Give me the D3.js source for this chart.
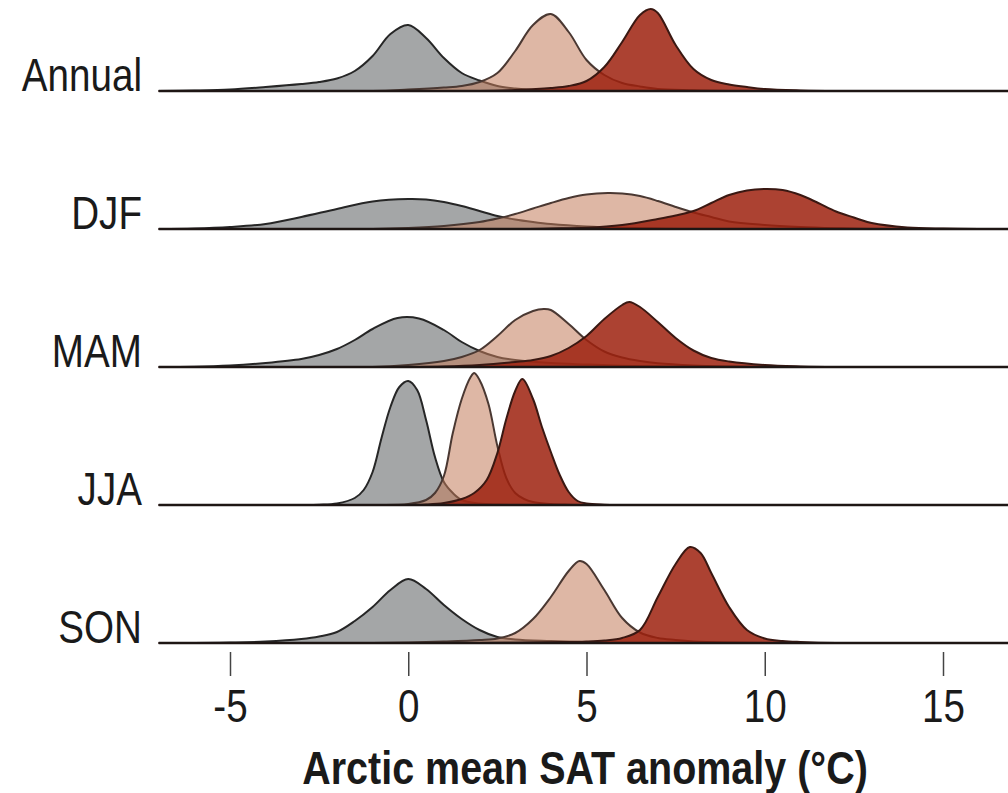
<!DOCTYPE html>
<html>
<head>
<meta charset="utf-8">
<script src="https://cdnjs.cloudflare.com/ajax/libs/d3/7.8.5/d3.min.js"></script>
<style>
  body { margin: 0; background: #fff; }
  svg { display: block; }
  text { font-family: "Liberation Sans", Arial, sans-serif; }
</style>
</head>
<body>
<div id="chart"></div>
<script>
const seasons = ["Annual", "DJF", "MAM", "JJA", "SON"];
const xTicks = [-5, 0, 5, 10, 15];
const xLabel = "Arctic mean SAT anomaly (°C)";

// density curves: [anomaly °C, relative density]
const annualGray = [[-7,0],[-6,0.5],[-5,1.5],[-4,4],[-3,7],[-2.5,9],[-2,12.5],[-1.5,20],[-1,35],[-0.5,57],[0,66],[0.5,53],[1,33],[1.5,18],[2,10.5],[2.5,5],[3,2.5],[3.5,1],[4,0.5],[5,0],[17,0]];
const annualPink = [[-7,0],[-1,0],[0,1.5],[1,3.5],[1.5,5],[2,9],[2.5,18],[3,40],[3.5,66],[4,77],[4.5,59],[5,31],[5.5,16],[6,8],[6.5,4.5],[7,2],[8,0.8],[9,0],[17,0]];
const annualRed = [[-7,0],[2,0],[3,1],[4,3],[4.5,5],[5,10],[5.5,24],[6,49],[6.5,76],[6.8,82],[7,78],[7.5,46],[8,22],[8.5,11],[9,6.5],[9.5,4],[10,2],[11,0.6],[12,0],[17,0]];

const djfGray = [[-7,0],[-6,0.5],[-5,2],[-4,5],[-3,12],[-2,20],[-1,27.5],[0,30],[0.5,29.5],[1,27],[1.5,23],[2,18],[2.5,13],[3,9.5],[3.5,7],[4,5],[5,2.5],[6,1.2],[7,0.5],[8,0],[17,0]];
const djfPink = [[-7,0],[-1,0],[0,1],[1,3],[2,7],[2.5,10.5],[3,15],[3.5,20.5],[4,26],[4.5,31],[5,34.5],[5.6,36],[6,35.5],[6.5,33],[7,28],[7.5,22],[8,16.5],[8.5,12],[9,7.5],[10,4],[11,2],[12,0.8],[13,0],[17,0]];
const djfRed = [[-7,0],[3,0],[4,0.5],[5,1.2],[6,4],[7,10],[7.5,13.5],[8,18],[8.5,26],[9,34],[9.5,38.5],[10,40],[10.5,39],[11,34],[11.5,26],[12,17.5],[12.5,11.5],[13,6],[14,1.6],[15,0.4],[16,0],[17,0]];

const mamGray = [[-7,0],[-6,0.3],[-5,1.5],[-4,4],[-3,8],[-2.5,12],[-2,18],[-1.5,27],[-1,38],[-0.3,49],[0.3,48.5],[1,37],[1.5,25],[2,16],[2.5,10],[3,7],[4,4],[5,2.5],[6,1.2],[7,0.5],[8,0],[17,0]];
const mamPink = [[-7,0],[-1,0],[0,2],[1,6],[1.5,10],[2,17],[2.5,31],[3,47],[3.5,56],[3.8,58],[4,57],[4.5,43],[5,27],[5.5,15.5],[6,9.5],[6.5,6],[7,3.7],[8,1.5],[9,0.5],[10,0],[17,0]];
const mamRed = [[-7,0],[0,0],[1,0.5],[2,2],[3,5],[3.5,7],[4,11],[4.5,19],[5,31],[5.5,48],[6,62],[6.2,65],[6.5,60],[7,45],[7.5,29],[8,16.5],[8.5,9],[9,5.5],[10,2],[11,0.6],[12,0],[17,0]];

const jjaGray = [[-7,0],[-3,0],[-2.5,0.3],[-2,1.5],[-1.5,7],[-1.25,15],[-1,33],[-0.75,67],[-0.5,98],[-0.25,118],[0,124],[0.25,115],[0.5,85],[0.75,48],[1,23],[1.25,12],[1.5,5],[2,1.5],[2.5,0.4],[3,0],[17,0]];
const jjaPink = [[-7,0],[-1,0],[0,1],[0.5,5],[0.75,12],[1,29],[1.25,72],[1.5,106],[1.75,128],[1.85,132],[2,125],[2.25,101],[2.5,59],[2.75,27],[3,12],[3.25,6],[3.5,3],[4,1],[4.5,0.3],[5,0],[17,0]];
const jjaRed = [[-7,0],[0,0],[0.5,0.5],[1,2],[1.5,6],[1.85,12],[2.2,25],[2.5,52],[2.75,86],[3,114],[3.2,126],[3.5,106],[3.75,78],[4,53],[4.25,30],[4.5,13],[4.75,4],[5,1.5],[5.5,0.3],[6,0],[17,0]];

const sonGray = [[-7,0],[-6,0],[-5,0.5],[-4,1.5],[-3,4],[-2.5,6.5],[-2,11],[-1.5,22],[-1,36],[-0.5,53],[0,64],[0.5,54],[1,38],[1.5,24],[2,13],[2.5,6],[3,3.5],[4,2],[5,1],[6,0],[17,0]];
const sonPink = [[-7,0],[-1,0],[0,0.5],[1,1.5],[2,3],[2.5,4.5],[3,10],[3.5,24],[4,46],[4.5,72],[4.8,82],[5,79],[5.5,53],[6,25],[6.5,10.5],[7,5],[7.5,3],[8,1.6],[9,0.5],[10,0],[17,0]];
const sonRed = [[-7,0],[2,0],[3,0.3],[4,0.8],[5,1.5],[5.5,2.5],[6,5],[6.5,13],[7,46],[7.5,79],[7.9,96],[8.2,90],[8.5,70],[9,36],[9.5,13],[10,4.5],[10.5,2],[11,1],[12,0],[17,0]];

const rows = {
  Annual: [annualGray, annualPink, annualRed],
  DJF: [djfGray, djfPink, djfRed],
  MAM: [mamGray, mamPink, mamRed],
  JJA: [jjaGray, jjaPink, jjaRed],
  SON: [sonGray, sonPink, sonRed]
};

const looks = [
  { fill: "rgb(74,77,79)", opacity: 0.5, stroke: "#262626" },
  { fill: "rgb(195,124,91)", opacity: 0.55, stroke: "#4a3832" },
  { fill: "rgb(157,33,14)", opacity: 0.85, stroke: "#3a1812" }
];

const width = 1008, height = 793;
const squeeze = "scale(0.84,1)"; // condensed look of the original type

const svg = d3.select("#chart").append("svg")
  .attr("width", width)
  .attr("height", height);

const x = d3.scaleLinear().domain([-5, 15]).range([230, 943]);
const row = d3.scalePoint().domain(seasons).range([91, 643]);
const y = d3.scaleLinear().domain([0, 100]).range([0, 100]);

const smooth = d3.curveCatmullRom.alpha(0.5);

const area = d3.area()
  .x(d => x(d[0]))
  .y0(0)
  .y1(d => -y(d[1]))
  .curve(smooth);

const line = d3.line()
  .x(d => x(d[0]))
  .y(d => -y(d[1]))
  .curve(smooth);

// keep the curves from dipping under the baseline
svg.append("defs").append("clipPath")
  .attr("id", "above")
  .append("rect")
  .attr("x", 0).attr("y", -200)
  .attr("width", width).attr("height", 201);

seasons.forEach(s => {
  const g = svg.append("g")
    .attr("transform", "translate(0," + row(s) + ")");
  const marks = g.append("g").attr("clip-path", "url(#above)");

  rows[s].forEach((pts, i) => {
    marks.append("path")
      .attr("d", area(pts))
      .attr("fill", looks[i].fill)
      .attr("fill-opacity", looks[i].opacity);
    marks.append("path")
      .attr("d", line(pts))
      .attr("fill", "none")
      .attr("stroke", looks[i].stroke)
      .attr("stroke-width", 2);
  });

  g.append("line")
    .attr("x1", x(-7))
    .attr("x2", width)
    .attr("stroke", "#1e1614")
    .attr("stroke-width", 2.5);

  g.append("text")
    .attr("transform", "translate(142,0) " + squeeze)
    .attr("text-anchor", "end")
    .attr("font-size", 46)
    .attr("fill", "#1a1a1a")
    .text(s);
});

const xAxis = d3.axisBottom(x)
  .tickValues(xTicks)
  .tickSize(24)
  .tickPadding(13)
  .tickFormat(d => String(d));

const ax = svg.append("g")
  .attr("transform", "translate(0,652)")
  .call(xAxis);
ax.select(".domain").remove();
ax.selectAll(".tick line").attr("stroke", "#444").attr("stroke-width", 1.5);
ax.selectAll(".tick text")
  .attr("font-size", 46)
  .attr("font-family", null)
  .attr("fill", "#1a1a1a")
  .attr("transform", squeeze);

svg.append("text")
  .attr("transform", "translate(585,784) " + squeeze)
  .attr("text-anchor", "middle")
  .attr("font-size", 47)
  .attr("font-weight", "bold")
  .attr("fill", "#1a1a1a")
  .text(xLabel);
</script>
</body>
</html>
